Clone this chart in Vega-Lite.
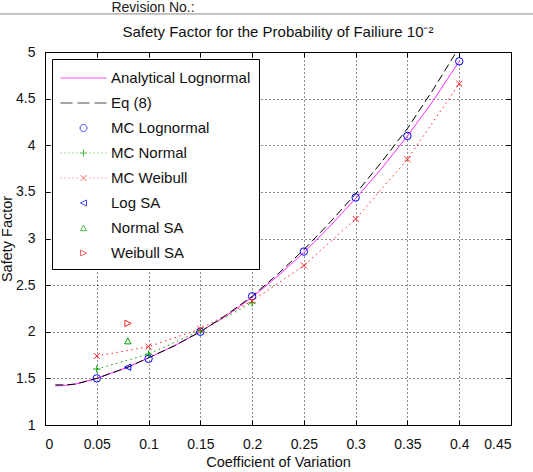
{
  "$schema": "https://vega.github.io/schema/vega-lite/v6.json",
  "width": 466,
  "height": 373,
  "autosize": {"type": "none"},
  "padding": {"left": 45, "top": 52, "right": 22, "bottom": 47},
  "background": "white",
  "title": {
    "text": "Safety Factor for the Probability of Failiure 10⁻²",
    "fontSize": 15,
    "fontWeight": "normal",
    "font": "Liberation Sans",
    "color": "#111",
    "offset": 0,
    "dy": 38.5,
    "anchor": "middle"
  },
  "config": {
    "view": {"stroke": "black", "strokeWidth": 1},
    "axis": {
      "labelFont": "Liberation Sans",
      "labelFontSize": 14,
      "labelColor": "#111",
      "titleFont": "Liberation Sans",
      "titleFontSize": 14.5,
      "titleFontWeight": "normal",
      "titleColor": "#111",
      "domain": false,
      "tickColor": "black",
      "tickSize": -5,
      "gridColor": "black",
      "gridDash": [1, 3],
      "gridOpacity": 0.9,
      "gridWidth": 1
    }
  },
  "data": {
    "values": [
      {"s": "Analytical Lognormal", "x": 0.01, "y": 1.42},
      {"s": "Analytical Lognormal", "x": 0.02, "y": 1.425},
      {"s": "Analytical Lognormal", "x": 0.03, "y": 1.44},
      {"s": "Analytical Lognormal", "x": 0.04, "y": 1.47},
      {"s": "Analytical Lognormal", "x": 0.05, "y": 1.5},
      {"s": "Analytical Lognormal", "x": 0.06, "y": 1.54},
      {"s": "Analytical Lognormal", "x": 0.07, "y": 1.58},
      {"s": "Analytical Lognormal", "x": 0.08, "y": 1.62},
      {"s": "Analytical Lognormal", "x": 0.09, "y": 1.67},
      {"s": "Analytical Lognormal", "x": 0.1, "y": 1.72},
      {"s": "Analytical Lognormal", "x": 0.125, "y": 1.85},
      {"s": "Analytical Lognormal", "x": 0.15, "y": 2.0},
      {"s": "Analytical Lognormal", "x": 0.175, "y": 2.17},
      {"s": "Analytical Lognormal", "x": 0.2, "y": 2.37},
      {"s": "Analytical Lognormal", "x": 0.225, "y": 2.6},
      {"s": "Analytical Lognormal", "x": 0.25, "y": 2.85},
      {"s": "Analytical Lognormal", "x": 0.275, "y": 3.13},
      {"s": "Analytical Lognormal", "x": 0.3, "y": 3.43},
      {"s": "Analytical Lognormal", "x": 0.325, "y": 3.75},
      {"s": "Analytical Lognormal", "x": 0.35, "y": 4.1},
      {"s": "Analytical Lognormal", "x": 0.375, "y": 4.48},
      {"s": "Analytical Lognormal", "x": 0.4, "y": 4.9},
      {"s": "Eq (8)", "x": 0.01, "y": 1.43},
      {"s": "Eq (8)", "x": 0.02, "y": 1.43},
      {"s": "Eq (8)", "x": 0.03, "y": 1.44},
      {"s": "Eq (8)", "x": 0.04, "y": 1.47},
      {"s": "Eq (8)", "x": 0.05, "y": 1.5},
      {"s": "Eq (8)", "x": 0.06, "y": 1.54},
      {"s": "Eq (8)", "x": 0.07, "y": 1.58},
      {"s": "Eq (8)", "x": 0.08, "y": 1.62},
      {"s": "Eq (8)", "x": 0.09, "y": 1.67},
      {"s": "Eq (8)", "x": 0.1, "y": 1.72},
      {"s": "Eq (8)", "x": 0.125, "y": 1.85},
      {"s": "Eq (8)", "x": 0.15, "y": 2.0},
      {"s": "Eq (8)", "x": 0.175, "y": 2.18},
      {"s": "Eq (8)", "x": 0.2, "y": 2.38},
      {"s": "Eq (8)", "x": 0.225, "y": 2.62},
      {"s": "Eq (8)", "x": 0.25, "y": 2.88},
      {"s": "Eq (8)", "x": 0.275, "y": 3.17},
      {"s": "Eq (8)", "x": 0.3, "y": 3.48},
      {"s": "Eq (8)", "x": 0.325, "y": 3.82},
      {"s": "Eq (8)", "x": 0.35, "y": 4.18},
      {"s": "Eq (8)", "x": 0.375, "y": 4.6},
      {"s": "Eq (8)", "x": 0.4, "y": 5.05},
      {"s": "MC Lognormal", "x": 0.05, "y": 1.5},
      {"s": "MC Lognormal", "x": 0.1, "y": 1.71},
      {"s": "MC Lognormal", "x": 0.15, "y": 2.0},
      {"s": "MC Lognormal", "x": 0.2, "y": 2.38},
      {"s": "MC Lognormal", "x": 0.25, "y": 2.86},
      {"s": "MC Lognormal", "x": 0.3, "y": 3.44},
      {"s": "MC Lognormal", "x": 0.35, "y": 4.1},
      {"s": "MC Lognormal", "x": 0.4, "y": 4.9},
      {"s": "MC Normal", "x": 0.05, "y": 1.6},
      {"s": "MC Normal", "x": 0.1, "y": 1.76},
      {"s": "MC Normal", "x": 0.15, "y": 2.01},
      {"s": "MC Normal", "x": 0.2, "y": 2.31},
      {"s": "MC Weibull", "x": 0.05, "y": 1.74},
      {"s": "MC Weibull", "x": 0.1, "y": 1.84},
      {"s": "MC Weibull", "x": 0.15, "y": 2.03},
      {"s": "MC Weibull", "x": 0.2, "y": 2.33},
      {"s": "MC Weibull", "x": 0.25, "y": 2.71},
      {"s": "MC Weibull", "x": 0.3, "y": 3.21},
      {"s": "MC Weibull", "x": 0.35, "y": 3.85},
      {"s": "MC Weibull", "x": 0.4, "y": 4.66},
      {"s": "Log SA", "x": 0.08, "y": 1.62},
      {"s": "Normal SA", "x": 0.08, "y": 1.9},
      {"s": "Weibull SA", "x": 0.08, "y": 2.09}
    ]
  },
  "resolve": {
    "scale": {"shape": "independent", "color": "independent"},
    "axis": {"x": "independent", "y": "independent"}
  },
  "layer": [
    {
      "transform": [{"filter": {"field": "s", "oneOf": ["Analytical Lognormal", "Eq (8)", "MC Normal", "MC Weibull"]}}],
      "mark": {"type": "line", "clip": true, "strokeWidth": 1},
      "encoding": {
        "x": {
          "field": "x", "type": "quantitative",
          "scale": {"domain": [0, 0.45], "nice": false, "zero": false},
          "axis": {"orient": "bottom", "values": [0, 0.05, 0.1, 0.15, 0.2, 0.25, 0.3, 0.35, 0.4, 0.45], "format": "~g", "grid": true, "labelPadding": 17, "title": "Coefficient of Variation", "titlePadding": 4}
        },
        "y": {
          "field": "y", "type": "quantitative",
          "scale": {"domain": [1, 5], "nice": false, "zero": false},
          "axis": {"orient": "left", "values": [1, 1.5, 2, 2.5, 3, 3.5, 4, 4.5, 5], "format": "~g", "grid": true, "labelPadding": 15, "title": "Safety Factor", "titlePadding": 1}
        },
        "color": {
          "field": "s", "type": "nominal", "legend": null,
          "scale": {
            "domain": ["Analytical Lognormal", "Eq (8)", "MC Normal", "MC Weibull"],
            "range": ["#ff00ff", "#000000", "#00a000", "#ff2020"]
          }
        },
        "strokeDash": {
          "field": "s", "type": "nominal", "legend": null,
          "scale": {
            "domain": ["Analytical Lognormal", "Eq (8)", "MC Normal", "MC Weibull"],
            "range": [[1, 0], [8, 4], [1.5, 3.5], [1.5, 3.5]]
          }
        }
      }
    },
    {
      "transform": [{"filter": {"field": "s", "oneOf": ["MC Lognormal", "MC Normal", "MC Weibull", "Log SA", "Normal SA", "Weibull SA"]}}],
      "mark": {"type": "point", "filled": false, "strokeWidth": 1, "size": 55, "opacity": 1},
      "encoding": {
        "x": {"field": "x", "type": "quantitative", "axis": null},
        "y": {"field": "y", "type": "quantitative", "axis": null},
        "color": {
          "field": "s", "type": "nominal", "legend": null,
          "scale": {
            "domain": ["MC Lognormal", "MC Normal", "MC Weibull", "Log SA", "Normal SA", "Weibull SA"],
            "range": ["#0000ff", "#00a000", "#ff2020", "#0000ff", "#00a000", "#ff2020"]
          }
        },
        "shape": {
          "field": "s", "type": "nominal", "legend": null,
          "scale": {
            "domain": ["MC Lognormal", "MC Normal", "MC Weibull", "Log SA", "Normal SA", "Weibull SA"],
            "range": ["circle", "M-1,0L1,0M0,-1L0,1", "M-0.8,-0.8L0.8,0.8M-0.8,0.8L0.8,-0.8", "M-0.9,0L0.8,-0.85L0.8,0.85Z", "M-0.85,0.75L0,-0.85L0.85,0.75Z", "M0.9,0L-0.8,-0.85L-0.8,0.85Z"]
          }
        }
      }
    },
    {
      "data": {"values": [{}]},
      "mark": {"type": "rule", "color": "#888888", "strokeWidth": 1},
      "encoding": {
        "x": {"datum": -0.05, "axis": null},
        "x2": {"datum": 0.48},
        "y": {"datum": 5.408, "axis": null}
      }
    },
    {
      "data": {"values": [{}]},
      "mark": {"type": "text", "text": "Revision No.:", "font": "Liberation Sans", "fontSize": 14, "color": "#222", "baseline": "alphabetic", "align": "center"},
      "encoding": {
        "x": {"datum": 0.1043, "axis": null},
        "y": {"datum": 5.4236, "axis": null}
      }
    },
    {
      "transform": [{"filter": "false"}],
      "mark": {"type": "point", "filled": false, "strokeWidth": 1},
      "encoding": {
        "x": {"field": "x", "type": "quantitative", "axis": {"orient": "top", "values": [0, 0.05, 0.1, 0.15, 0.2, 0.25, 0.3, 0.35, 0.4, 0.45], "labels": false, "grid": false, "title": null}},
        "y": {"field": "y", "type": "quantitative", "axis": {"orient": "right", "values": [1, 1.5, 2, 2.5, 3, 3.5, 4, 4.5, 5], "labels": false, "grid": false, "title": null}},
        "color": {
          "field": "s", "type": "nominal",
          "scale": {
            "domain": ["Analytical Lognormal", "Eq (8)", "MC Lognormal", "MC Normal", "MC Weibull", "Log SA", "Normal SA", "Weibull SA"],
            "range": ["#ff00ff", "#000000", "#0000ff", "#00a000", "#ff2020", "#0000ff", "#00a000", "#ff2020"]
          },
          "legend": {
            "title": null,
            "orient": "none",
            "legendX": 7,
            "legendY": 7,
            "strokeColor": "black",
            "fillColor": "white",
            "padding": 8,
            "symbolSize": 400,
            "symbolStrokeWidth": 1,
            "symbolFillColor": "transparent",
            "labelFont": "Liberation Sans",
            "labelFontSize": 15,
            "labelColor": "#111",
            "labelOffset": 30,
            "rowPadding": 6,
            "labelLimit": 300
          }
        },
        "shape": {
          "field": "s", "type": "nominal",
          "scale": {
            "domain": ["Analytical Lognormal", "Eq (8)", "MC Lognormal", "MC Normal", "MC Weibull", "Log SA", "Normal SA", "Weibull SA"],
            "range": [
              "M-1,0.05L3.6,0.05",
              "M-1,0.05L0.2,0.05M0.7,0.05L1.9,0.05M2.4,0.05L3.6,0.05",
              "M1.65,0.05A0.35,0.35,0,1,1,0.95,0.05A0.35,0.35,0,1,1,1.65,0.05",
              "M-1,0.05L-0.9,0.05M-0.6,0.05L-0.5,0.05M-0.2,0.05L-0.1,0.05M0.2,0.05L0.3,0.05M0.6,0.05L0.7,0.05M1.9,0.05L2,0.05M2.3,0.05L2.4,0.05M2.7,0.05L2.8,0.05M3.1,0.05L3.2,0.05M3.5,0.05L3.6,0.05M0.95,0.05L1.65,0.05M1.3,-0.3L1.3,0.4",
              "M-1,0.05L-0.9,0.05M-0.6,0.05L-0.5,0.05M-0.2,0.05L-0.1,0.05M0.2,0.05L0.3,0.05M0.6,0.05L0.7,0.05M1.9,0.05L2,0.05M2.3,0.05L2.4,0.05M2.7,0.05L2.8,0.05M3.1,0.05L3.2,0.05M3.5,0.05L3.6,0.05M1.02,-0.23L1.58,0.33M1.02,0.33L1.58,-0.23",
              "M1.0,0.05L1.6,-0.25L1.6,0.35Z",
              "M1.0,0.32L1.3,-0.25L1.6,0.32Z",
              "M1.6,0.05L1.0,-0.25L1.0,0.35Z"
            ]
          },
          "legend": {
            "title": null,
            "orient": "none",
            "legendX": 7,
            "legendY": 7,
            "strokeColor": "black",
            "fillColor": "white",
            "padding": 8,
            "symbolSize": 400,
            "symbolStrokeWidth": 1,
            "symbolFillColor": "transparent",
            "labelFont": "Liberation Sans",
            "labelFontSize": 15,
            "labelColor": "#111",
            "labelOffset": 30,
            "rowPadding": 6,
            "labelLimit": 300
          }
        }
      }
    }
  ]
}
